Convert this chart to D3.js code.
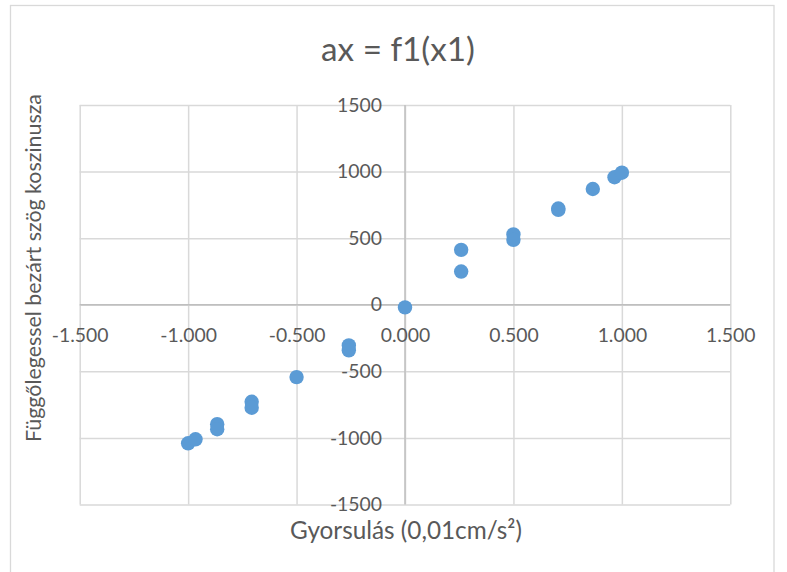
<!DOCTYPE html>
<html>
<head>
<meta charset="utf-8">
<script src="https://cdn.jsdelivr.net/npm/d3@7"></script>
<style>
  html, body { margin: 0; padding: 0; background: #ffffff; }
  svg { display: block; }
</style>
</head>
<body>
<svg id="chart" width="787" height="572"></svg>
<script>
// ---------- data ----------
const chartTitle = "ax = f1(x1)";
const xTitle = "Gyorsulás (0,01cm/s²)";
const yTitle = "Függőlegessel bezárt szög koszinusza";

const xValues = [-1.000, -0.966, -0.866, -0.866, -0.707, -0.707, -0.500, -0.259, -0.259, 0.000,
                  0.259, 0.259, 0.500, 0.500, 0.707, 0.707, 0.866, 0.966, 1.000];
const yValues = [-1040, -1010, -896, -934, -728, -773, -543, -305, -342, -20,
                  412, 249, 528, 487, 722, 712, 869, 957, 991];

const xTickValues = [-1.5, -1.0, -0.5, 0.0, 0.5, 1.0, 1.5];
const yTickValues = [-1500, -1000, -500, 0, 500, 1000, 1500];

// ---------- setup ----------
const FONT = "Lato, 'Open Sans', 'Liberation Sans', sans-serif";
const TEXT = "#595959";
const GRID = "#d9d9d9";
const AXIS = "#bfbfbf";
const DOT = "#5b9bd5";

const svg = d3.select("#chart");
const W = 787, H = 572;

svg.append("rect").attr("x", 0).attr("y", 0).attr("width", W).attr("height", H).attr("fill", "#fff");
// chart frame
svg.append("rect")
  .attr("x", 10.5).attr("y", 5.5)
  .attr("width", 774 - 10.5).attr("height", 600)
  .attr("fill", "#fff").attr("stroke", GRID).attr("stroke-width", 1.3);

const pLeft = 79.7, pRight = 730.3, pTop = 104.9, pBottom = 504.6;

const x = d3.scaleLinear().domain([-1.5, 1.5]).range([pLeft, pRight]);
const y = d3.scaleLinear().domain([-1500, 1500]).range([pBottom, pTop]);

const loc = d3.formatLocale({decimal: ".", thousands: "", grouping: [3], currency: ["", ""], minus: "-"});
const fx = loc.format(".3f");
const fy = loc.format("d");

function fit(sel, target) {
  sel.style("font-size", "20px");
  const w = sel.node().getComputedTextLength();
  const size = 20 * target / w;
  sel.style("font-size", size + "px");
  return size;
}

// ---------- grid ----------
const gx = svg.append("g").attr("transform", `translate(0,${pBottom})`)
  .call(d3.axisBottom(x).tickValues(xTickValues).tickSize(-(pBottom - pTop)).tickFormat(""));
const gy = svg.append("g").attr("transform", `translate(${pLeft},0)`)
  .call(d3.axisLeft(y).tickValues(yTickValues).tickSize(-(pRight - pLeft)).tickFormat(""));
[gx, gy].forEach(g => {
  g.select(".domain").remove();
  g.selectAll(".tick line").attr("stroke", GRID).attr("stroke-width", 1.5);
});

// ---------- zero axes ----------
svg.append("line").attr("x1", x(0)).attr("x2", x(0)).attr("y1", pTop).attr("y2", pBottom)
  .attr("stroke", AXIS).attr("stroke-width", 1.5);
svg.append("line").attr("x1", pLeft).attr("x2", pRight).attr("y1", y(0)).attr("y2", y(0))
  .attr("stroke", AXIS).attr("stroke-width", 1.5);

// ---------- tick labels ----------
const lx = svg.append("g").attr("transform", `translate(0,${y(0)})`)
  .call(d3.axisBottom(x).tickValues(xTickValues).tickSize(0).tickPadding(23.5).tickFormat(fx));
const ly = svg.append("g").attr("transform", `translate(${x(0)},0)`)
  .call(d3.axisLeft(y).tickValues(yTickValues).tickSize(0).tickPadding(23).tickFormat(fy));
[lx, ly].forEach(g => {
  g.select(".domain").remove();
  g.attr("font-family", FONT).attr("font-size", null);
  g.selectAll("text").attr("fill", TEXT);
});
const zeroLbl = lx.selectAll("text").filter(d => d === 0);
const tickFont = fit(zeroLbl, 49.5);
lx.selectAll("text").style("font-size", tickFont + "px");
ly.selectAll("text").style("font-size", tickFont + "px");

// ---------- points ----------
const pts = xValues.map((v, i) => ({x: v, y: yValues[i]}));
svg.append("g").selectAll("circle").data(pts).join("circle")
  .attr("cx", d => x(d.x)).attr("cy", d => y(d.y)).attr("r", 7.2)
  .attr("fill", DOT);

// ---------- titles ----------
const t = svg.append("text").text(chartTitle)
  .attr("x", 398).attr("y", 61).attr("text-anchor", "middle")
  .attr("font-family", FONT).attr("fill", TEXT);
fit(t, 154);

const xt = svg.append("text").text(xTitle)
  .attr("x", 406).attr("y", 538.5).attr("text-anchor", "middle")
  .attr("font-family", FONT).attr("fill", TEXT);
fit(xt, 232);

const yt = svg.append("text").text(yTitle)
  .attr("transform", "translate(41,268) rotate(-90)").attr("text-anchor", "middle")
  .attr("font-family", FONT).attr("fill", TEXT);
fit(yt, 348);
</script>
</body>
</html>
